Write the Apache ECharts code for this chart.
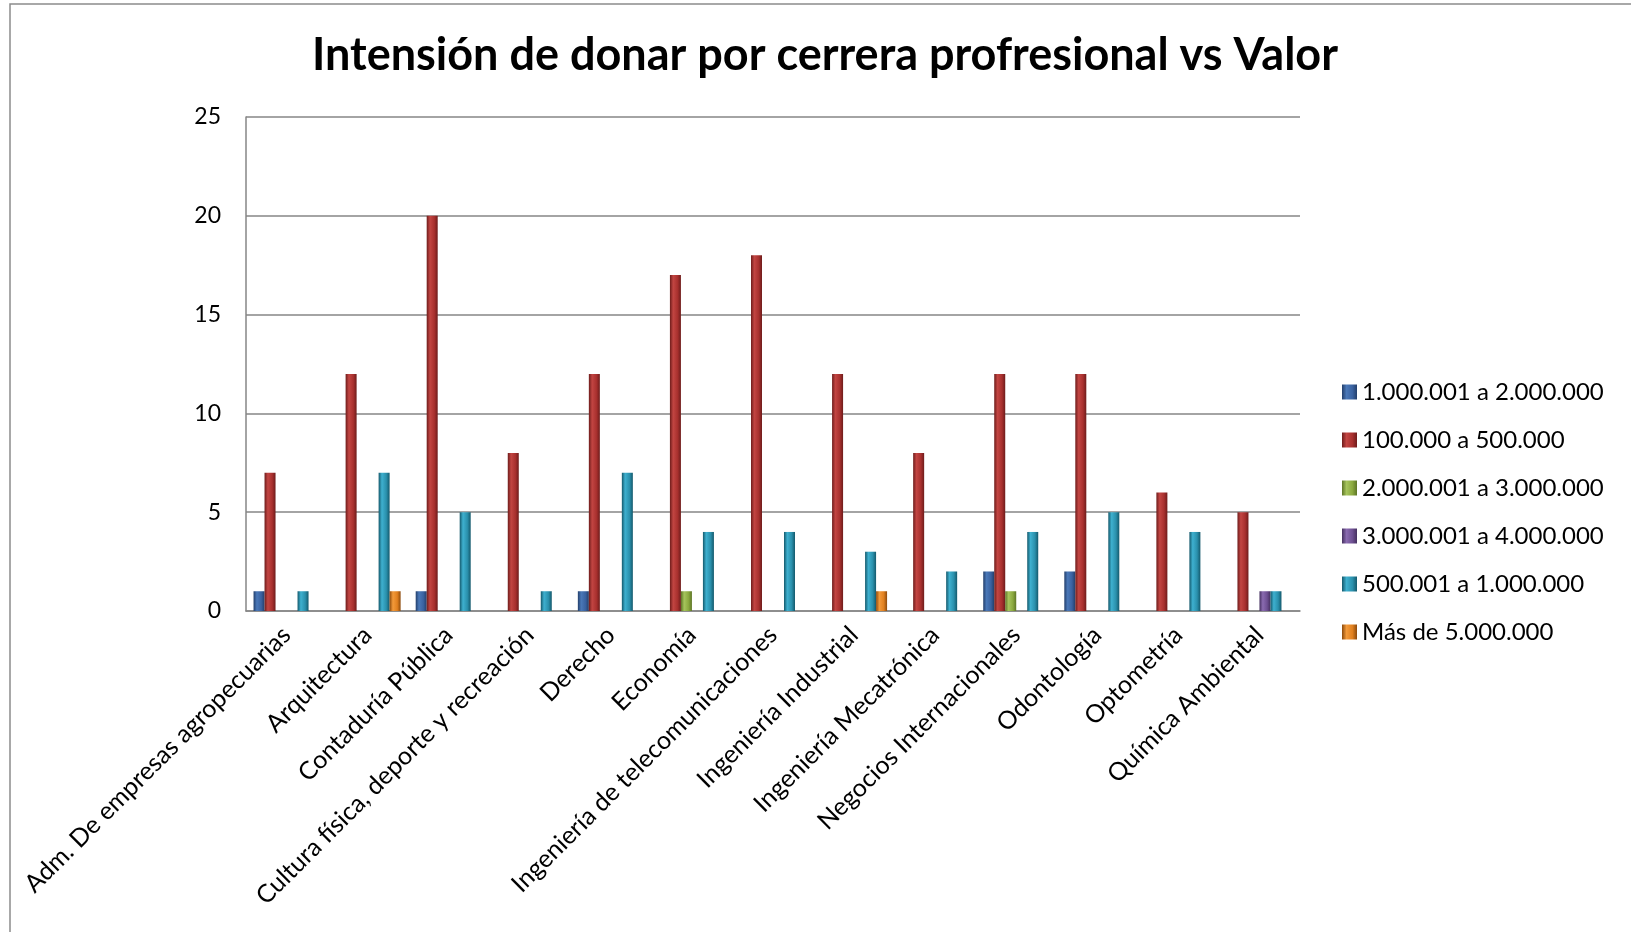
<!DOCTYPE html>
<html>
<head>
<meta charset="utf-8">
<script src="https://cdn.jsdelivr.net/npm/echarts@6/dist/echarts.min.js"></script>
<style>
  html, body { margin: 0; padding: 0; background: #fff; }
  #main { width: 1631px; height: 932px; }
</style>
</head>
<body>
<div id="main"></div>
<script>
var carreras = [
    'Adm. De empresas agropecuarias', 'Arquitectura', 'Contaduría Pública',
    'Cultura física, deporte y recreación', 'Derecho', 'Economía',
    'Ingeniería de telecomunicaciones', 'Ingeniería Industrial', 'Ingeniería Mecatrónica',
    'Negocios Internacionales', 'Odontología', 'Optometría', 'Química Ambiental'
];
var rangos = ['1.000.001 a 2.000.000', '100.000 a 500.000', '2.000.001 a 3.000.000',
    '3.000.001 a 4.000.000', '500.001 a 1.000.000', 'Más de 5.000.000'];

var r1a2mill   = [1, 0, 1, 0, 1, 0, 0, 0, 0, 2, 2, 0, 0];
var r100a500   = [7, 12, 20, 8, 12, 17, 18, 12, 8, 12, 12, 6, 5];
var r2a3mill   = [0, 0, 0, 0, 0, 1, 0, 0, 0, 1, 0, 0, 0];
var r3a4mill   = [0, 0, 0, 0, 0, 0, 0, 0, 0, 0, 0, 0, 1];
var r500a1mill = [1, 7, 5, 1, 7, 4, 4, 3, 2, 4, 5, 4, 1];
var rMas5mill  = [0, 1, 0, 0, 0, 0, 0, 1, 0, 0, 0, 0, 0];
var yTicks = [0, 5, 10, 15, 20, 25];

var valores = [r1a2mill, r100a500, r2a3mill, r3a4mill, r500a1mill, rMas5mill];
// color oscuro, claro, base para el efecto biselado
var colores = [
    ['#233f6b', '#4a78b8', '#3a62a0'],
    ['#6e1c1b', '#c24542', '#a8302e'],
    ['#5d7526', '#a6c45c', '#8aa83e'],
    ['#45305f', '#8a6bb0', '#6d4f91'],
    ['#14596c', '#3eb0cf', '#2a90ac'],
    ['#8c4a0c', '#f39a3a', '#e0801f']
];

function grad(c) {
    return new echarts.graphic.LinearGradient(0, 0, 1, 0, [
        { offset: 0, color: c[0] },
        { offset: 0.3, color: c[1] },
        { offset: 0.7, color: c[2] },
        { offset: 1, color: c[0] }
    ]);
}

var myChart = echarts.init(document.getElementById('main'));
var fuente = 'Lato';

var series = rangos.map(function (nombre, i) {
    return {
        name: nombre,
        type: 'bar',
        data: valores[i],
        barWidth: 11,
        barGap: '0%',
        itemStyle: { color: grad(colores[i]) }
    };
});

var option = {
    animation: false,
    backgroundColor: '#fff',
    color: colores.map(function (c) { return c[2]; }),
    title: {
        text: 'Intensión de donar por cerrera profresional vs Valor',
        left: 820,
        textAlign: 'center',
        top: 28,
        textStyle: { fontFamily: fuente, fontSize: 45, fontWeight: 'bold', color: '#000' }
    },
    graphic: [{
        type: 'rect',
        shape: { x: 10, y: 4, width: 1700, height: 1000 },
        style: { fill: 'none', stroke: '#8c8c8c', lineWidth: 1.5 },
        silent: true
    }],
    legend: {
        orient: 'vertical',
        left: 1337,
        top: 375,
        itemWidth: 15,
        itemHeight: 15,
        itemGap: 24,
        icon: 'rect',
        textStyle: { fontFamily: fuente, fontSize: 24, color: '#000', lineHeight: 24, padding: [0, 0, 0, 0] },
        data: rangos
    },
    grid: { left: 246, right: 331, top: 117, bottom: 321 },
    xAxis: {
        type: 'category',
        data: carreras,
        axisLine: { lineStyle: { color: '#868686', width: 1.5 } },
        axisTick: { show: false },
        axisLabel: {
            rotate: 45,
            margin: 20,
            interval: 0,
            fontFamily: fuente,
            fontSize: 25,
            color: '#000'
        }
    },
    yAxis: {
        type: 'value',
        min: 0,
        max: yTicks[yTicks.length - 1],
        interval: yTicks[1] - yTicks[0],
        axisLine: { show: true, lineStyle: { color: '#868686', width: 1.5 } },
        axisTick: { show: false },
        splitLine: { lineStyle: { color: '#868686', width: 1.5 } },
        axisLabel: { margin: 25, fontFamily: fuente, fontSize: 23, color: '#000' }
    },
    series: series
};

myChart.setOption(option);
</script>
</body>
</html>
